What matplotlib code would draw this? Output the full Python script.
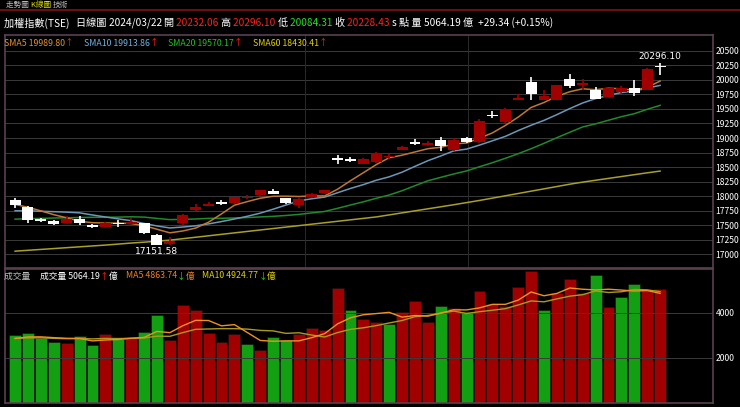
import matplotlib
matplotlib.use("Agg")
import matplotlib.pyplot as plt
import numpy as np
import pandas as pd

plt.rcParams['font.family'] = ['Noto Sans CJK TC', 'DejaVu Sans']

# daily OHLC, 51 sessions up to 2024/03/22
opens = [17930, 17810, 17600, 17570, 17530, 17600, 17500, 17470, 17540, 17520,
         17530, 17330, 17165, 17530, 17760, 17830, 17900, 17880, 17960, 18010,
         18080, 17960, 17850, 17980, 18050, 18650, 18640, 18560, 18590, 18670,
         18800, 18930, 18880, 18960, 18790, 19000, 18930, 19400, 19270, 19660,
         19960, 19660, 19660, 20020, 19920, 19830, 19700, 19790, 19870, 19830,
         20232.06]
highs = [17960, 17820, 17620, 17590, 17660, 17660, 17510, 17550, 17590, 17620,
         17540, 17350, 17290, 17690, 17860, 17900, 17940, 17990, 18010, 18110,
         18120, 17970, 17960, 18060, 18110, 18700, 18670, 18660, 18760, 18730,
         18870, 18980, 18940, 19010, 19000, 19010, 19320, 19460, 19510, 19760,
         20050, 19820, 19920, 20100, 20010, 19880, 19870, 19890, 20000, 20200,
         20296.10]
lows = [17800, 17530, 17560, 17500, 17520, 17500, 17450, 17460, 17470, 17510,
        17340, 17151.58, 17155, 17500, 17750, 17820, 17840, 17870, 17950, 18000,
        18030, 17860, 17800, 17970, 18040, 18560, 18590, 18550, 18570, 18640,
        18790, 18880, 18860, 18770, 18780, 18920, 18920, 19340, 19260, 19650,
        19660, 19650, 19650, 19860, 19820, 19670, 19690, 19770, 19730, 19820,
        20084.31]
closes = [17840, 17590, 17575, 17520, 17600, 17540, 17470, 17540, 17520, 17560,
          17360, 17160, 17230, 17680, 17810, 17870, 17870, 17980, 17990, 18100,
          18040, 17880, 17950, 18040, 18100, 18620, 18610, 18640, 18740, 18690,
          18840, 18890, 18920, 18860, 18970, 18930, 19300, 19380, 19500, 19690,
          19760, 19730, 19910, 19900, 19940, 19680, 19860, 19860, 19770, 20190,
          20228.43]
# closes before the window, needed to start the moving averages
prior_closes = [17420, 17480, 17390, 17510, 17450, 17400, 17530, 17470, 17440, 17480,
                17600, 17650, 17590, 17680, 17660, 17840, 17880, 17850, 17870]
sma60 = [17050, 17065, 17080, 17095, 17110, 17125, 17140, 17155, 17172, 17190,
         17205, 17222, 17240, 17265, 17290, 17315, 17340, 17365, 17390, 17415,
         17440, 17465, 17490, 17515, 17540, 17565, 17590, 17615, 17640, 17675,
         17710, 17745, 17780, 17815, 17850, 17887, 17924, 17964, 18004, 18044,
         18084, 18124, 18164, 18204, 18240, 18272, 18304, 18336, 18368, 18400,
         18430]

volumes = [3020, 3100, 2870, 2720, 2650, 2980, 2570, 3070, 2830, 2920,
           3170, 3900, 2800, 4360, 4120, 3130, 2720, 3070, 2620, 2350,
           2950, 2800, 3070, 3340, 3250, 5110, 4150, 3745, 3600, 3520,
           4050, 4510, 3600, 4300, 4230, 4030, 4960, 4380, 4300, 5170,
           5840, 4120, 4900, 5500, 4900, 5690, 4270, 4710, 5290, 5010,
           5064.19]
vol_up = "GGGGRGGRGRGGRRRRRRGRGGRRRRGRRGRRRGRGRRRRRGRRRGRGGRR"
prior_volumes = [2900, 2850, 2950, 2800, 2900, 2750, 2850, 2900, 2800]

BG = "black"
RED = "#a00000"
GREEN = "#12a012"
GRID = "#3a3a3a"

n = len(closes)
x = np.arange(n)
allc = pd.Series(prior_closes + closes)
sma5 = allc.rolling(5).mean().values[-n:]
sma10 = allc.rolling(10).mean().values[-n:]
sma20 = allc.rolling(20).mean().values[-n:]
allv = pd.Series(prior_volumes + volumes)
vma5 = allv.rolling(5).mean().values[-n:]
vma10 = allv.rolling(10).mean().values[-n:]

fig = plt.figure(figsize=(7.4, 4.07), dpi=100, facecolor=BG)
ax = fig.add_axes([5 / 740, 1 - 268 / 407, 708 / 740, 233 / 407], facecolor=BG)
axv = fig.add_axes([5 / 740, 1 - 403 / 407, 708 / 740, 134 / 407], facecolor=BG)

for a in (ax, axv):
    for s in a.spines.values():
        s.set_color("#5a4050")
        s.set_linewidth(1.2)
    a.yaxis.tick_right()
    a.tick_params(colors="white", labelsize=6.2, length=0, pad=2)
    a.set_xticks([])
    a.set_xlim(-0.78, 54.1)

# price panel
ax.set_ylim(16760, 20775)
ax.set_yticks(np.arange(17000, 20501, 250))
ax.yaxis.grid(True, color=GRID, lw=0.7)
for xv in [22.5, 35.1]:
    ax.axvline(xv, color="#2a2a2a", lw=0.7)
ax.plot(x, sma60, color="#a8a028", lw=1.1)
ax.plot(x, sma20, color="#1f8a2a", lw=1.1)
ax.plot(x, sma10, color="#6b98b8", lw=1.1)
ax.plot(x, sma5, color="#c07830", lw=1.1)
for i in range(n):
    o, h, l, c = opens[i], highs[i], lows[i], closes[i]
    col = RED if c >= o else "white"
    ax.vlines(i, l, h, color=col, lw=1.2, zorder=3)
    bot, top = min(o, c), max(o, c)
    ax.bar(i, max(top - bot, 8), bottom=bot, width=0.85, color=col, zorder=4)
ilo = int(np.argmin(lows))
ax.text(ilo, lows[ilo] - 25, f"{lows[ilo]:.2f}", color="white", fontsize=6.5,
        ha="center", va="top", family="DejaVu Sans")
ihi = int(np.argmax(highs))
ax.text(ihi, highs[ihi] + 25, f"{highs[ihi]:.2f}", color="white", fontsize=6.5,
        ha="center", va="bottom", family="DejaVu Sans")

# volume panel
axv.set_ylim(0, 5950)
axv.set_yticks([2000, 4000])
axv.yaxis.grid(True, color=GRID, lw=0.7)
axv.bar(x, volumes, width=0.92, color=[GREEN if u == "G" else RED for u in vol_up],
        edgecolor="#101010", lw=0.4)
axv.plot(x, vma10, color="#a89a20", lw=1.0)
axv.plot(x, vma5, color="#f09020", lw=1.0)

# header texts
fig.canvas.draw()
rend = fig.canvas.get_renderer()


def chain(x0, y0, parts, size=7.3):
    xp = x0
    for s, col in parts:
        t = fig.text(xp / 740, 1 - y0 / 407, s, color=col, fontsize=size, va="center")
        xp += t.get_window_extent(rend).width


fig.add_artist(plt.Line2D([0, 1], [1 - 10 / 407] * 2, color="#6a1010", lw=1.5))
chain(6, 5, [("走勢圖 ", "#bbbbbb"), ("K線圖 ", "#e0e000"), ("技術", "#bbbbbb")], 5.5)
chain(4, 23, [("加權指數(TSE)   ", "white"), ("日線圖 ", "white"), ("2024/03/22 ", "white"),
              ("開 ", "white"), ("20232.06 ", "#ff2020"), ("高 ", "white"),
              ("20296.10 ", "#ff2020"), ("低 ", "white"), ("20084.31 ", "#20e020"),
              ("收 ", "white"), ("20228.43 ", "#ff2020"), ("s 點 量 ", "white"),
              ("5064.19 ", "white"), ("億  ", "white"), ("+29.34 (+0.15%)", "white")])
chain(4, 43, [("SMA5 19989.80", "#e09030"), ("↑     ", "#ff2020"),
              ("SMA10 19913.86", "#70b0e0"), ("↑     ", "#ff2020"),
              ("SMA20 19570.17", "#20c020"), ("↑     ", "#ff2020"),
              ("SMA60 18430.41", "#e0d000"), ("↑", "#ff2020")], 6.3)
chain(4, 276, [("成交量     ", "#bbbbbb"), ("成交量 5064.19", "white"), ("↑", "#ff2020"),
               ("億    ", "white"), ("MA5 4863.74", "#f08020"), ("↓", "#20e020"),
               ("億    ", "#f08020"), ("MA10 4924.77", "#e0d000"), ("↓", "#20e020"),
               ("億", "#e0d000")], 6.3)

fig.savefig("out.png", dpi=100, facecolor=BG)
